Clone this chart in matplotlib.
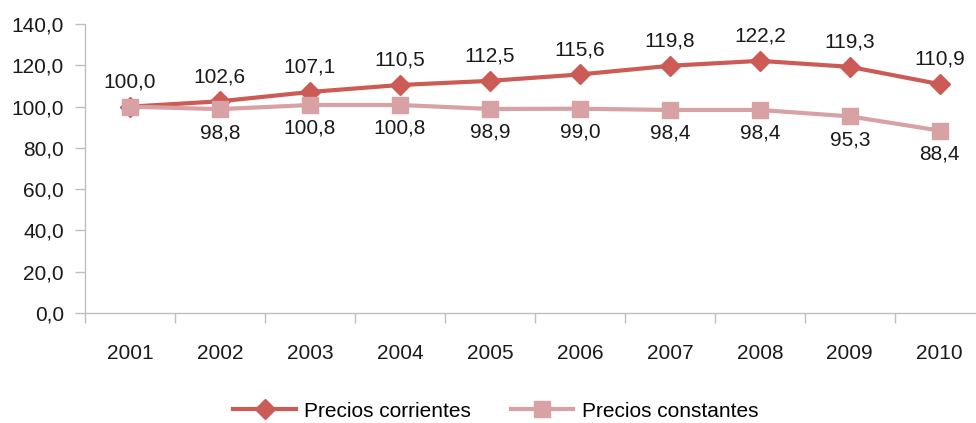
import matplotlib
matplotlib.use("Agg")
import matplotlib.pyplot as plt
from matplotlib.ticker import FixedLocator, NullFormatter

plt.rcParams['font.family'] = ['Liberation Sans', 'DejaVu Sans']

years = ['2001', '2002', '2003', '2004', '2005', '2006', '2007', '2008', '2009', '2010']
corrientes = [100.0, 102.6, 107.1, 110.5, 112.5, 115.6, 119.8, 122.2, 119.3, 110.9]
constantes = [100.0, 98.8, 100.8, 100.8, 98.9, 99.0, 98.4, 98.4, 95.3, 88.4]
yticks = [0, 20, 40, 60, 80, 100, 120, 140]

c_cur = '#CD5B55'
c_con = '#D8A1A4'
FS = 15

fig = plt.figure(figsize=(9.76, 4.23), dpi=100)
ax = fig.add_axes([0.087, 0.26, 0.922, 0.683])

x = list(range(len(years)))
ax.plot(x, corrientes, color=c_cur, lw=3, marker='D', ms=10, label='Precios corrientes', zorder=3)
ax.plot(x, constantes, color=c_con, lw=3, marker='s', ms=11, label='Precios constantes', zorder=4)

def fmt(v):
    return f"{v:.1f}".replace('.', ',')

for i, v in enumerate(corrientes):
    ax.annotate(fmt(v), (i, v), xytext=(0, 11), textcoords='offset points',
                ha='center', va='bottom', fontsize=FS, color='#1a1a1a')
for i, v in enumerate(constantes):
    if i == 0:
        continue
    ax.annotate(fmt(v), (i, v), xytext=(0, -10), textcoords='offset points',
                ha='center', va='top', fontsize=FS, color='#1a1a1a')

ax.set_ylim(0, 140)
ax.set_xlim(-0.5, len(years) - 0.5)
ax.set_yticks(yticks)
ax.set_yticklabels([fmt(v) for v in yticks], fontsize=FS, color='#1a1a1a')
ax.set_xticks(x)
ax.set_xticklabels(years, fontsize=FS, color='#1a1a1a')
ax.tick_params(axis='x', length=0, pad=22)
ax.xaxis.set_minor_locator(FixedLocator([i - 0.5 for i in range(len(years) + 1)]))
ax.xaxis.set_minor_formatter(NullFormatter())
ax.tick_params(axis='x', which='minor', length=7, color='#bfbfbf', width=1)
ax.tick_params(axis='y', length=7, color='#bfbfbf', width=1, pad=8)

for s in ['top', 'right']:
    ax.spines[s].set_visible(False)
for s in ['left', 'bottom']:
    ax.spines[s].set_color('#bfbfbf')
    ax.spines[s].set_linewidth(1)

leg = fig.legend(loc='center', bbox_to_anchor=(0.508, 0.028), ncol=2, frameon=False,
                 fontsize=FS, handlelength=3.0, columnspacing=1.9, handletextpad=0.4)

fig.savefig('out.png', dpi=100)
